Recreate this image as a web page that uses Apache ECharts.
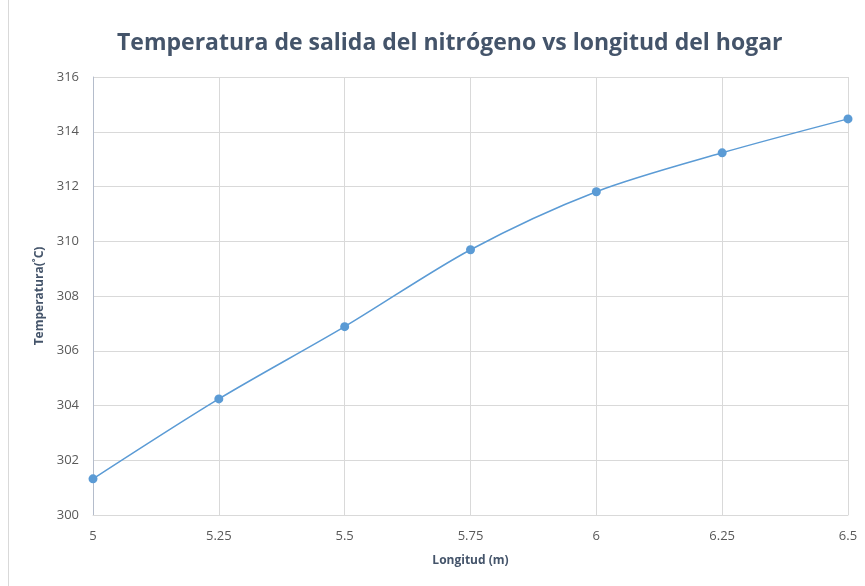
<!DOCTYPE html>
<html><head><meta charset="utf-8">
<script src="https://cdn.jsdelivr.net/npm/echarts@6/dist/echarts.min.js"></script>
<style>html,body{margin:0;padding:0;background:#fff}#c{width:865px;height:586px}</style>
</head><body><div id="c"></div>
<script>
const titleText = 'Temperatura de salida del nitrógeno vs longitud del hogar';
const xName = 'Longitud (m)';
const yName = 'Temperatura(˚C)';
const longitud = [5, 5.25, 5.5, 5.75, 6, 6.25, 6.5];
const temperatura = [301.32, 304.24, 306.88, 309.69, 311.81, 313.23, 314.47];

const chart = echarts.init(document.getElementById('c'));
chart.setOption({
  animation: false,
  backgroundColor: '#fff',
  graphic: [{type:'rect', shape:{x:8.5,y:-2,width:900,height:600}, style:{fill:'none', stroke:'#d9d9d9', lineWidth:1}, silent:true}],
  title: {text: titleText, left: 112, top: 27,
    textStyle: {fontFamily: 'Open Sans', fontWeight: 'bold', fontSize: 23, color: '#44546a'}},
  grid: {left: 93, right: 17, top: 77, bottom: 71},
  xAxis: {type: 'value', min: 5, max: 6.5, interval: 0.25,
    name: xName, nameLocation: 'middle', nameGap: 40,
    nameTextStyle: {fontFamily: 'Open Sans', fontWeight: 'bold', fontSize: 12, color: '#44546a'},
    axisLine: {lineStyle: {color: '#d9d9d9'}}, axisTick: {show: false},
    axisLabel: {fontFamily: 'Open Sans', fontSize: 13, color: '#595959', margin: 15},
    splitLine: {show: true, lineStyle: {color: '#d9d9d9'}}},
  yAxis: {type: 'value', min: 300, max: 316, interval: 2,
    name: yName, nameLocation: 'middle', nameGap: 46,
    nameTextStyle: {fontFamily: 'Open Sans', fontWeight: 'bold', fontSize: 12, color: '#44546a'},
    axisLine: {show: true, lineStyle: {color: '#b4bccb'}}, axisTick: {show: false},
    axisLabel: {fontFamily: 'Open Sans', fontSize: 13, color: '#595959', margin: 14},
    splitLine: {show: true, lineStyle: {color: '#d9d9d9'}}},
  series: [{type: 'line', data: longitud.map((x,i)=>[x, temperatura[i]]), smooth: 0.3,
    symbol: 'circle', symbolSize: 9,
    lineStyle: {color: '#5b9bd5', width: 1.5}, itemStyle: {color: '#5b9bd5'}}]
});
</script></body></html>
